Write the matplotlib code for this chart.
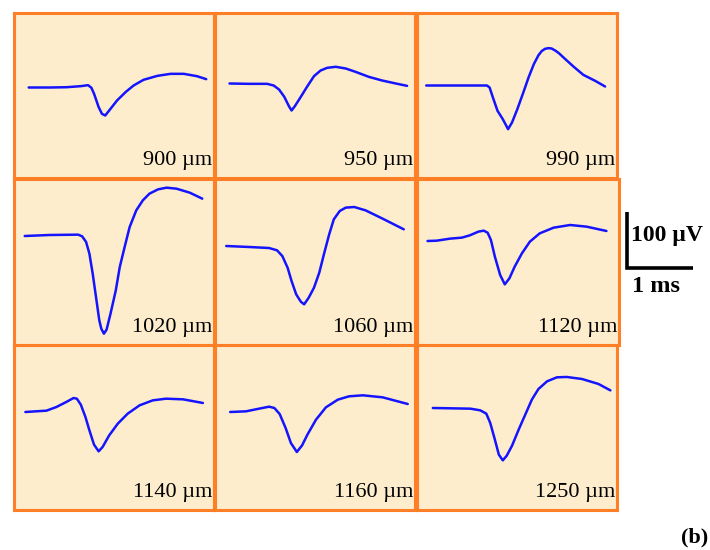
import matplotlib
matplotlib.use('Agg')
import matplotlib.pyplot as plt

# recorded waveforms, time in ms from panel left edge, voltage in uV (baseline = 0)
labels = ['900 µm', '950 µm', '990 µm',
          '1020 µm', '1060 µm', '1120 µm',
          '1140 µm', '1160 µm', '1250 µm']

t_900 = [0.23, 0.55, 0.80, 1.02, 1.13, 1.18, 1.22, 1.29, 1.34, 1.39, 1.47, 1.57, 1.70, 1.82, 1.97, 2.18, 2.38, 2.58, 2.78, 2.92]
v_900 = [0, 0, 0.5, 2.4, 4.2, -0.5, -11, -35, -47, -50, -38, -23, -8, 3.6, 13.7, 20.8, 24.4, 24.4, 20.2, 14.9]

t_950 = [0.22, 0.51, 0.79, 0.89, 0.97, 1.05, 1.12, 1.16, 1.21, 1.30, 1.40, 1.50, 1.60, 1.70, 1.83, 1.98, 2.13, 2.33, 2.53, 2.74, 2.91]
v_950 = [0, -0.6, -0.6, -3.6, -10.7, -23.8, -40.5, -48.2, -40.5, -23.8, -4.8, 13.1, 23.2, 28, 29.8, 26.8, 20.8, 11.9, 5.4, 0, -4.2]

t_990 = [0.14, 1.06, 1.10, 1.15, 1.22, 1.30, 1.38, 1.44, 1.52, 1.62, 1.69, 1.77, 1.84, 1.89, 1.94, 1.99, 2.04, 2.10, 2.15, 2.22, 2.37, 2.52, 2.70, 2.85]
v_990 = [0, 0, -3.6, -21.4, -45.2, -60.1, -78, -66, -42.3, -9.5, 14.3, 38.1, 54, 61.5, 65.5, 66.7, 66.1, 62, 57.7, 50, 33.9, 19, 8.3, -1.8]

t_1020 = [0.17, 0.55, 0.98, 1.04, 1.10, 1.15, 1.20, 1.25, 1.30, 1.33, 1.37, 1.41, 1.47, 1.55, 1.61, 1.69, 1.76, 1.86, 1.96, 2.06, 2.19, 2.32, 2.47, 2.67, 2.86]
v_1020 = [0, 1.8, 2.4, -0.6, -10.7, -31.5, -67.3, -109, -150.6, -165.5, -174.4, -167.3, -138.7, -97, -55.4, -16.7, 16.1, 45.8, 63.7, 75.6, 83.3, 86.3, 84.5, 77.4, 66.7]

t_1060 = [0.17, 0.52, 0.82, 0.94, 1.02, 1.10, 1.16, 1.23, 1.30, 1.35, 1.42, 1.50, 1.58, 1.65, 1.73, 1.80, 1.89, 1.98, 2.11, 2.28, 2.53, 2.86]
v_1060 = [0, -1.8, -3.6, -7.7, -17.9, -38.7, -62.5, -86.3, -99.4, -104.2, -92.3, -74.4, -47.6, -14.9, 20.8, 47.6, 62.5, 68.5, 69.6, 63.7, 49.4, 29.8]

t_1120 = [0.16, 0.30, 0.50, 0.68, 0.80, 0.93, 1.01, 1.07, 1.12, 1.18, 1.26, 1.33, 1.40, 1.48, 1.59, 1.71, 1.86, 2.07, 2.32, 2.57, 2.87]
v_1120 = [0, 0.6, 4.2, 6, 10.1, 16.7, 18.5, 14.9, 1.8, -28, -60.7, -77.4, -66.7, -45.8, -22, -1.2, 13.7, 23.8, 28.6, 25.6, 17.9]

t_1140 = [0.18, 0.50, 0.65, 0.80, 0.91, 0.96, 1.02, 1.09, 1.15, 1.22, 1.29, 1.35, 1.45, 1.58, 1.73, 1.91, 2.11, 2.31, 2.57, 2.87]
v_1140 = [0, 2.4, 8.9, 17.9, 25, 23.8, 13.1, -8.9, -32.7, -58.3, -70.2, -62.5, -41.7, -20.8, -3, 11.9, 20.8, 23.8, 22.6, 16.1]

t_1160 = [0.23, 0.47, 0.67, 0.82, 0.90, 0.98, 1.07, 1.15, 1.24, 1.32, 1.40, 1.53, 1.68, 1.86, 2.03, 2.24, 2.54, 2.92]
v_1160 = [0, 1.2, 6, 9.5, 7.1, -3.6, -28.6, -55.4, -71.4, -59.5, -40.5, -13.7, 8.3, 22, 28, 29.8, 26.2, 14.3]

t_1250 = [0.24, 0.53, 0.81, 0.96, 1.05, 1.11, 1.18, 1.24, 1.30, 1.36, 1.44, 1.54, 1.64, 1.74, 1.84, 1.97, 2.12, 2.27, 2.50, 2.75, 2.93]
v_1250 = [0, -0.6, -1.2, -4.2, -10.1, -26.8, -56.5, -83.3, -93.5, -85.1, -67.3, -38.7, -11.9, 14.9, 33.9, 47.6, 54.8, 55.4, 51.8, 42.9, 31.5]

times = [t_900, t_950, t_990, t_1020, t_1060, t_1120, t_1140, t_1160, t_1250]
volts = [v_900, v_950, v_990, v_1020, v_1060, v_1120, v_1140, v_1160, v_1250]

# layout (pixels)
W, H = 710, 550
PX_MS = 66.0     # pixels per ms
PX_UV = 0.56     # pixels per uV
col_left = [13.5, 215, 417]
col_w = [200, 200, 200]
row_top = [13.5, 179, 345]
row_h = [165, 166, 165]
base_off = [74, 70, 72, 57, 67, 62, 67, 67, 63]   # baseline depth below panel top

orange = '#FF7F27'
fill = '#FDEDCC'
blue = '#1414FF'

plt.rcParams['font.family'] = ['Liberation Serif', 'DejaVu Serif']
fig = plt.figure(figsize=(W / 100, H / 100), dpi=100)

def frac(x, y, w, h):
    return [x / W, 1 - (y + h) / H, w / W, h / H]

for i in range(9):
    r, c = divmod(i, 3)
    w = col_w[c] + (2 if i == 5 else 0)
    h = row_h[r]
    ax = fig.add_axes(frac(col_left[c], row_top[r], w, h))
    ax.set_facecolor(fill)
    top = base_off[i] / PX_UV
    ax.set_xlim(0, w / PX_MS)
    ax.set_ylim(top - h / PX_UV, top)
    ax.plot(times[i], volts[i], color=blue, lw=1.8, solid_joinstyle='round', solid_capstyle='round')
    ax.set_xticks([])
    ax.set_yticks([])
    for s in ax.spines.values():
        s.set_color(orange)
        s.set_linewidth(2.2)
    ax.text(1 - 1.5 / w, 13 / h, labels[i], transform=ax.transAxes,
            ha='right', va='baseline', fontsize=16, color='black')

# scale bar: 1 ms x 100 uV
sb = fig.add_axes(frac(620, 205, 90, 70))
sb.set_xlim(-7 / PX_MS, 83 / PX_MS)
sb.set_ylim(-(275 - 268) / PX_UV, (268 - 205) / PX_UV)
sb.plot([0, 0, 1], [100, 0, 0], color='black', lw=2.6, solid_capstyle='butt', solid_joinstyle='miter')
sb.axis('off')

fig.text(631 / W, 1 - 236 / H, '100 µV', fontsize=17, fontweight='bold', ha='left', va='center')
fig.text(632 / W, 1 - 286 / H, '1 ms', fontsize=17.5, fontweight='bold', ha='left', va='center')
fig.text(708 / W, 1 - 537 / H, '(b)', fontsize=16, fontweight='bold', ha='right', va='center')

fig.savefig('out.png', dpi=100)
